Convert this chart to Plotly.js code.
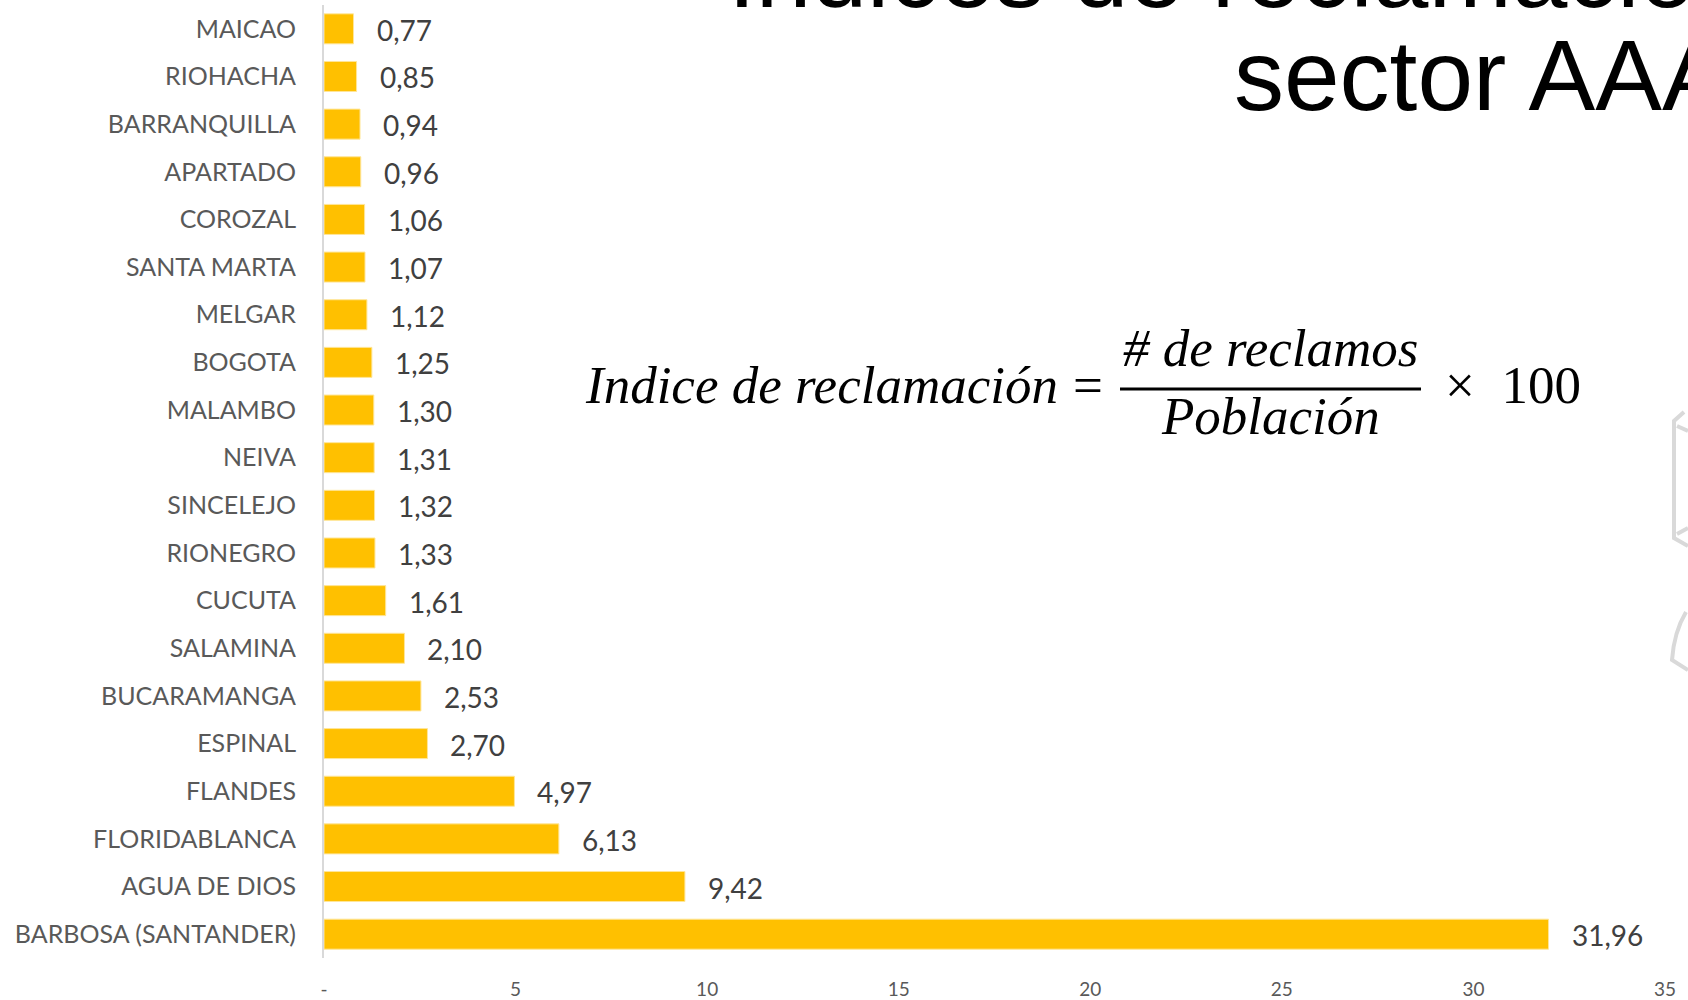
<!DOCTYPE html>
<html>
<head>
<meta charset="utf-8">
<script src="https://cdn.plot.ly/plotly-3.0.1.min.js"></script>
<style>html,body{margin:0;padding:0;background:#fff;}#chart{width:1688px;height:1000px;}</style>
</head>
<body>
<div id="chart"></div>
<script>
const categories = ["MAICAO","RIOHACHA","BARRANQUILLA","APARTADO","COROZAL","SANTA MARTA","MELGAR","BOGOTA","MALAMBO","NEIVA","SINCELEJO","RIONEGRO","CUCUTA","SALAMINA","BUCARAMANGA","ESPINAL","FLANDES","FLORIDABLANCA","AGUA DE DIOS","BARBOSA (SANTANDER)"];
const values = [0.77,0.85,0.94,0.96,1.06,1.07,1.12,1.25,1.30,1.31,1.32,1.33,1.61,2.10,2.53,2.70,4.97,6.13,9.42,31.96];
const tickValues = [0,5,10,15,20,25,30,35];
const tickLabels = ["-","5","10","15","20","25","30","35"];
const titleLine1 = "Indices de reclamación";
const titleLine2 = "sector AAA";

const W = 1688, H = 1000;
const M = {l:324, r:23, t:5, b:42};
const pw = W - M.l - M.r, ph = H - M.t - M.b;
const px = x => (x - M.l) / pw;
const py = y => (H - M.b - y) / ph;

const fmt = v => v.toFixed(2).replace('.', ',');

const labelAnnotations = categories.map((c, i) => ({
  x: values[i], y: c, xref: 'x', yref: 'y',
  text: fmt(values[i]), showarrow: false, xanchor: 'left', yanchor: 'middle',
  xshift: 21, yshift: -1,
  font: {family: 'Lato, sans-serif', size: 28, color: '#404040'}
}));

const formulaFont = {family: '"Liberation Serif", "Times New Roman", serif', size: 53, color: '#000'};

const annotations = labelAnnotations.concat([
  {x: px(726), y: py(-28), xref: 'paper', yref: 'paper', text: titleLine1, showarrow: false,
   xanchor: 'left', yanchor: 'middle', font: {family: '"Liberation Sans", Arial, sans-serif', size: 100, color: '#000'}},
  {x: px(1232), y: py(75), xref: 'paper', yref: 'paper', text: titleLine2, showarrow: false,
   xanchor: 'left', yanchor: 'middle', font: {family: '"Liberation Sans", Arial, sans-serif', size: 100, color: '#000'}},
  {x: px(1060), y: py(385), xref: 'paper', yref: 'paper', text: '<i>Indice de reclamación</i>', showarrow: false,
   xanchor: 'right', yanchor: 'middle', font: formulaFont},
  {x: px(1088), y: py(385), xref: 'paper', yref: 'paper', text: '=', showarrow: false,
   xanchor: 'center', yanchor: 'middle', font: formulaFont},
  {x: px(1270), y: py(348), xref: 'paper', yref: 'paper', text: '<i># de reclamos</i>', showarrow: false,
   xanchor: 'center', yanchor: 'middle', font: formulaFont},
  {x: px(1270), y: py(416), xref: 'paper', yref: 'paper', text: '<i>Población</i>', showarrow: false,
   xanchor: 'center', yanchor: 'middle', font: formulaFont},
  {x: px(1443), y: py(385), xref: 'paper', yref: 'paper', text: '×  100', showarrow: false,
   xanchor: 'left', yanchor: 'middle', font: formulaFont}
]);

const deco = '#d9d9d9';
const pt = (x, y) => px(x).toFixed(5) + ',' + py(y).toFixed(5);
const shapes = [
  {type: 'line', xref: 'paper', yref: 'paper', x0: px(1120), x1: px(1421), y0: py(389), y1: py(389),
   line: {color: '#000', width: 3}},
  {type: 'path', xref: 'paper', yref: 'paper',
   path: 'M' + pt(1684, 412) + ' L' + pt(1674, 421) + ' L' + pt(1674, 538) + ' L' + pt(1688, 546),
   line: {color: deco, width: 4}},
  {type: 'path', xref: 'paper', yref: 'paper',
   path: 'M' + pt(1677, 426) + ' L' + pt(1688, 431),
   line: {color: deco, width: 4}},
  {type: 'path', xref: 'paper', yref: 'paper',
   path: 'M' + pt(1677, 534) + ' L' + pt(1688, 528),
   line: {color: deco, width: 4}},
  {type: 'path', xref: 'paper', yref: 'paper',
   path: 'M' + pt(1686, 612) + ' Q' + pt(1674, 632) + ' ' + pt(1672, 660) + ' L' + pt(1688, 670),
   line: {color: deco, width: 4}}
];

const trace = {
  type: 'bar', orientation: 'h', x: values, y: categories,
  marker: {color: '#FFC000', line: {color: '#FFE699', width: 1}},
  hoverinfo: 'skip'
};

const layout = {
  width: W, height: H,
  margin: M,
  paper_bgcolor: '#fff', plot_bgcolor: '#fff',
  bargap: 0.37,
  showlegend: false,
  xaxis: {range: [0, 35], tickvals: tickValues, ticktext: tickLabels, showgrid: false, zeroline: false,
          showline: false, ticks: '', ticklabelstandoff: 18,
          tickfont: {family: 'Lato, sans-serif', size: 19, color: '#595959'}},
  yaxis: {autorange: 'reversed', type: 'category', showgrid: false, zeroline: false,
          showline: true, linecolor: '#d9d9d9', linewidth: 2, ticks: '', ticklabelstandoff: 21,
          tickfont: {family: 'Lato, sans-serif', size: 25, color: '#595959'}},
  annotations: annotations,
  shapes: shapes
};

Plotly.newPlot('chart', [trace], layout, {staticPlot: true, displayModeBar: false});
</script>
</body>
</html>
